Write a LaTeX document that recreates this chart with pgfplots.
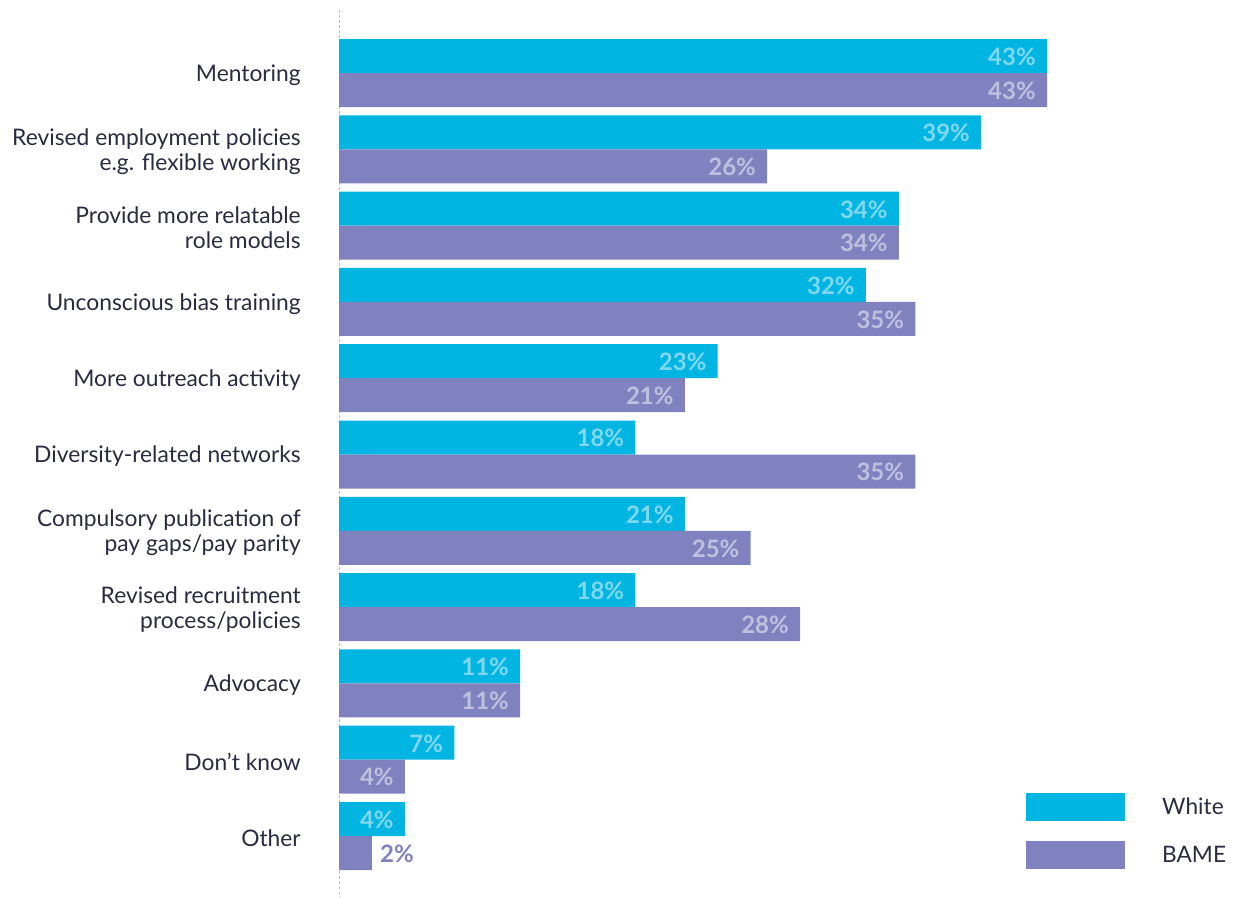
\documentclass[border=0pt]{standalone}
\usepackage{fontspec}
\setmainfont{Lato}
\usepackage{pgfplots}
\usepackage{pgfplotstable}
\pgfplotsset{compat=1.18}
\definecolor{cwhite}{HTML}{00B5E2}
\definecolor{cbame}{HTML}{7F82BF}
\definecolor{lwhite}{HTML}{80D8EF}
\definecolor{lbame}{HTML}{BFC0E0}
\definecolor{txt}{HTML}{2A2A40}
\definecolor{axln}{HTML}{B8BACB}
\pgfplotstableread{
idx white bame
0 43 43
1 39 26
2 34 34
3 32 35
4 23 21
5 18 35
6 21 25
7 18 28
8 11 11
9 7 4
10 4 2
}\data
\begin{document}
\begin{tikzpicture}
\begin{axis}[
  x=12.349pt, y=57.225pt, y dir=reverse,
  xmin=0, xmax=54.66, ymin=-0.826, ymax=10.81,
  clip=false,
  /pgf/number format/assume math mode=true,
  axis x line=none, axis y line=left,
  y axis line style={-, axln, line width=0.75pt, dash pattern=on 1.9pt off 1.9pt},
  major tick length=0pt,
  ytick={0,...,10},
  yticklabels={Mentoring,
    {Revised employment policies\\e.g. flexible working},
    {Provide more relatable\\role models},
    Unconscious bias training,
    More outreach activity,
    Diversity-related networks,
    {Compulsory publication of\\pay gaps/pay parity},
    {Revised recruitment\\process/policies},
    Advocacy,
    Don't know,
    Other},
  yticklabel style={align=right, inner sep=0pt, xshift=-28.5pt, yshift=-1.5pt, text=txt,
    font=\fontsize{17.1}{18.75}\selectfont},
  bar width=25.5pt,
  point meta=x,
  legend image code/.code={\fill[#1] (0pt,-10.5pt) rectangle (74.25pt,10.5pt);},
  legend style={at={(axis cs:41.72,9.437)}, anchor=north west, draw=none, fill=none,
    inner sep=0pt, row sep=15pt, column sep=0pt,
    nodes={inner sep=0pt, text=txt, font=\fontsize{17}{18.75}\selectfont},
    /tikz/every odd column/.append style={column sep=27.75pt}},
  legend cell align=left,
]
\addplot[xbar, bar shift=12.75pt, fill=cwhite, draw=none,
  nodes near coords={\pgfmathprintnumber{\pgfplotspointmeta}\%},
  every node near coord/.append style={anchor=east, inner sep=0pt, xshift=-8.25pt, yshift=12.2pt, text=lwhite,
    font=\fontsize{18}{18}\selectfont\bfseries}]
  table[x=white, y=idx]{\data};
\addlegendentry{White}
\addplot[xbar, bar shift=-12.75pt, fill=cbame, draw=none]
  table[x=bame, y=idx]{\data};
\addlegendentry{BAME}
\addplot[xbar, bar shift=-12.75pt, fill=none, draw=none, forget plot,
  x filter/.expression={x<3 ? nan : x},
  nodes near coords={\pgfmathprintnumber{\pgfplotspointmeta}\%},
  every node near coord/.append style={anchor=east, inner sep=0pt, xshift=-8.25pt, yshift=-13.2pt, text=lbame,
    font=\fontsize{18}{18}\selectfont\bfseries}]
  table[x=bame, y=idx]{\data};
\addplot[xbar, bar shift=-12.75pt, fill=none, draw=none, forget plot,
  x filter/.expression={x<3 ? x : nan},
  nodes near coords={\pgfmathprintnumber{\pgfplotspointmeta}\%},
  every node near coord/.append style={anchor=west, inner sep=0pt, xshift=6pt, yshift=-13.2pt, text=cbame,
    font=\fontsize{18}{18}\selectfont\bfseries}]
  table[x=bame, y=idx]{\data};
\coordinate (bbA) at (axis cs:-20.59,-0.957);
\coordinate (bbB) at (axis cs:54.66,10.81);
\end{axis}
\pgfresetboundingbox
\path (bbA) rectangle (bbB);
\end{tikzpicture}
\end{document}
